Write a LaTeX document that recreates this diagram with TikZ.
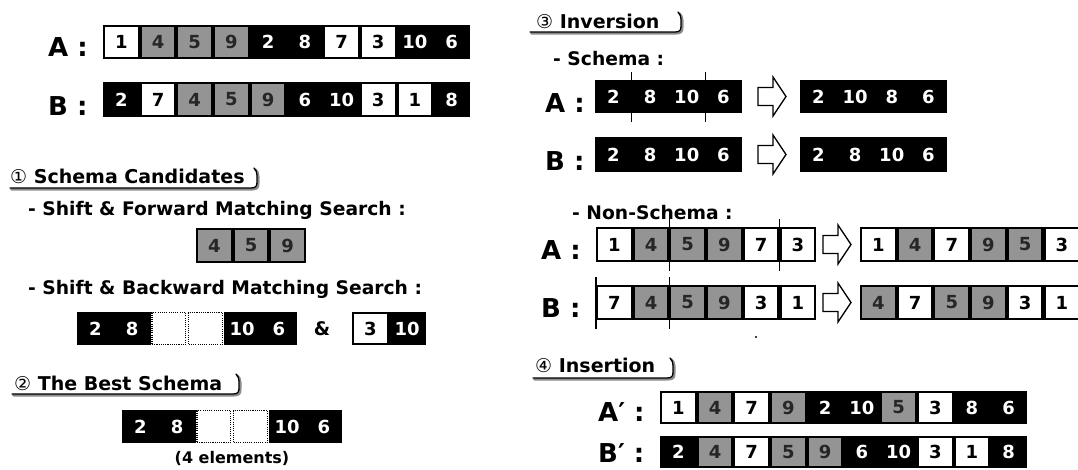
\documentclass[tikz,border=0pt]{standalone}
\usepackage{fontspec}
\setmainfont{DejaVu Sans}
\newfontfamily\circfont{DejaVu Sans}
\usetikzlibrary{calc}
\newcommand\cw{36.7}
\tikzset{
  cbg/.style={fill=black, draw=none, minimum width=36.9pt, inner sep=0pt, outer sep=0pt},
  cellfont/.style={font=\fontsize{18}{20}\selectfont\bfseries},
  cB/.style={cellfont, text=white, inner sep=0pt, outer sep=0pt},
  cW/.style={cellfont, fill=white, text=black, minimum width=32.6pt, inner sep=0pt, outer sep=0pt},
  cG/.style={cellfont, fill=black!42, text=black!85, minimum width=32.6pt, inner sep=0pt, outer sep=0pt},
  cD/.style={fill=white, draw=black, line width=1.1pt, dash pattern=on 1.1pt off 1.1pt, minimum width=33.5pt, inner sep=0pt, outer sep=0pt},
  lab/.style={font=\fontsize{26}{28}\selectfont\bfseries, inner sep=0pt, anchor=base west},
  ttl/.style={font=\fontsize{19}{21}\selectfont\bfseries, inner sep=0pt, anchor=base west},
  sub/.style={font=\fontsize{18.7}{21}\selectfont\bfseries, inner sep=0pt, anchor=base west},
  tickline/.style={line width=1.3pt},
  blockarr/.style={draw=black, fill=white, line width=1.3pt, line join=miter},
}
\newcommand\cellbar[5]{%
  \foreach \ty/\dg [count=\ii from 0] in {#5}{%
    \pgfmathsetmacro\cx{#2+(\ii+0.5)*\cw}%
    \pgfmathsetmacro\cy{-(#3)-(#4)/2}%
    \if\ty D%
      \node[cD, minimum height=#4pt-1pt] (#1-\ii) at (\cx,\cy) {};%
    \else
      \node[cbg, minimum height=#4pt] (#1-bg\ii) at (\cx,\cy) {};%
      \node[c\ty, minimum height=#4pt-4.5pt] (#1-\ii) at (\cx,\cy) {\dg};%
    \fi
  }}
\newcommand\tabpath[3]{(#1,-#3) -- (#2-6,-#3) .. controls (#2-1,-#3) and (#2,-#3+2) .. (#2,-#3+6) -- (#2,-#3+13) .. controls (#2,-#3+16) and (#2-1,-#3+18) .. (#2-3,-#3+20)}
\newcommand\tabul[3]{%
  \draw[black!45, line width=2.4pt, line cap=round, shift={(1.3,-1.3)}] \tabpath{#1}{#2}{#3};
  \draw[black, line width=1.3pt, line cap=round] \tabpath{#1}{#2}{#3};}
\newcommand\blockarrow[2]{%
  \draw[blockarr] (#1,-#2+9) -- (#1+15,-#2+9) -- (#1+15,-#2+19.5) -- (#1+28,-#2) -- (#1+15,-#2-19.5) -- (#1+15,-#2-9) -- (#1,-#2-9) -- cycle;}
\newcommand\tickat[2]{% node, anchor side (east/west)
  \draw[tickline] ($(#1.north #2)+(0,8)$) -- ($(#1.south #2)+(0,-9)$);}

\begin{document}
\begin{tikzpicture}[x=1pt,y=1pt]
\useasboundingbox (0,0) rectangle (1078,-469);
\fill[white] (0,0) rectangle (1078,-469);

% ---------- top rows ----------
\node[lab] (lA) at (48,-56) {A :};
\cellbar{topA}{103}{25}{34}{W/1,G/4,G/5,G/9,B/2,B/8,W/7,W/3,B/10,B/6}
\node[lab] (lB) at (48,-115) {B :};
\cellbar{topB}{103}{82}{35}{B/2,W/7,G/4,G/5,G/9,B/6,B/10,W/3,W/1,B/8}

% ---------- 1 ----------
\node[ttl] (t1) at (10,-183) {{\circfont\mdseries ①} Schema Candidates};
\tabul{10}{257}{188}
\node[sub] (s1) at (28,-215) {- Shift \& Forward Matching Search :};
\cellbar{fwd}{196}{228}{35}{G/4,G/5,G/9}
\node[sub] (s2) at (28,-294) {- Shift \& Backward Matching Search :};
\cellbar{bwd}{77}{312}{33}{B/2,B/8,D/{},D/{},B/10,B/6}
\node[sub, anchor=center] (amp) at (322,-329) {\&};
\cellbar{bwdb}{352}{312}{33}{W/3,B/10}

% ---------- 2 ----------
\node[ttl] (t2) at (14,-390) {{\circfont\mdseries ②} The Best Schema};
\tabul{12}{239}{394}
\cellbar{best}{122}{410}{33}{B/2,B/8,D/{},D/{},B/10,B/6}
\node[font=\fontsize{16}{18}\selectfont\bfseries, inner sep=0pt] (elem) at (232,-458) {(4 elements)};

% ---------- 3 ----------
\node[ttl] (t3) at (536,-28) {{\circfont\mdseries ③} Inversion};
\tabul{530}{681}{32}
\node[sub] (s3) at (553,-65) {- Schema :};
\node[lab] (iA) at (545,-112) {A :};
\cellbar{invA}{595}{80}{33}{B/2,B/8,B/10,B/6}
\tickat{invA-bg0}{east}
\tickat{invA-bg2}{east}
\blockarrow{758}{96.5}
\cellbar{invAr}{800}{80}{33}{B/2,B/10,B/8,B/6}
\node[lab] (iB) at (545,-170) {B :};
\cellbar{invB}{595}{137}{35}{B/2,B/8,B/10,B/6}
\blockarrow{758}{154.5}
\cellbar{invBr}{800}{137}{35}{B/2,B/8,B/10,B/6}

\node[sub] (s4) at (572,-219) {- Non-Schema :};
\node[lab] (nA) at (541,-259) {A :};
\cellbar{nsA}{596}{227}{35}{W/1,G/4,G/5,G/9,W/7,W/3}
\tickat{nsA-bg1}{east}
\tickat{nsA-bg4}{east}
\blockarrow{823}{244.5}
\cellbar{nsAr}{860}{227}{35}{W/1,G/4,W/7,G/9,G/5,W/3}
\node[lab] (nB) at (541,-317) {B :};
\cellbar{nsB}{596}{285}{35}{W/7,G/4,G/5,G/9,W/3,W/1}
\tickat{nsB-bg0}{west}
\tickat{nsB-bg1}{east}
\blockarrow{823}{302.5}
\cellbar{nsBr}{860}{285}{35}{G/4,W/7,G/5,G/9,W/3,W/1}

\fill (756,-337) circle (1.2);

% ---------- 4 ----------
\node[ttl] (t4) at (535,-372) {{\circfont\mdseries ④} Insertion};
\tabul{533}{673}{378}
\node[lab] (pA) at (598,-421) {A′ :};
\cellbar{insA}{660}{391}{33}{W/1,G/4,W/7,G/9,B/2,B/10,G/5,W/3,B/8,B/6}
\node[lab] (pB) at (598,-462) {B′ :};
\cellbar{insB}{660}{436}{32}{B/2,G/4,W/7,G/5,G/9,B/6,B/10,W/3,W/1,B/8}
\end{tikzpicture}
\end{document}
